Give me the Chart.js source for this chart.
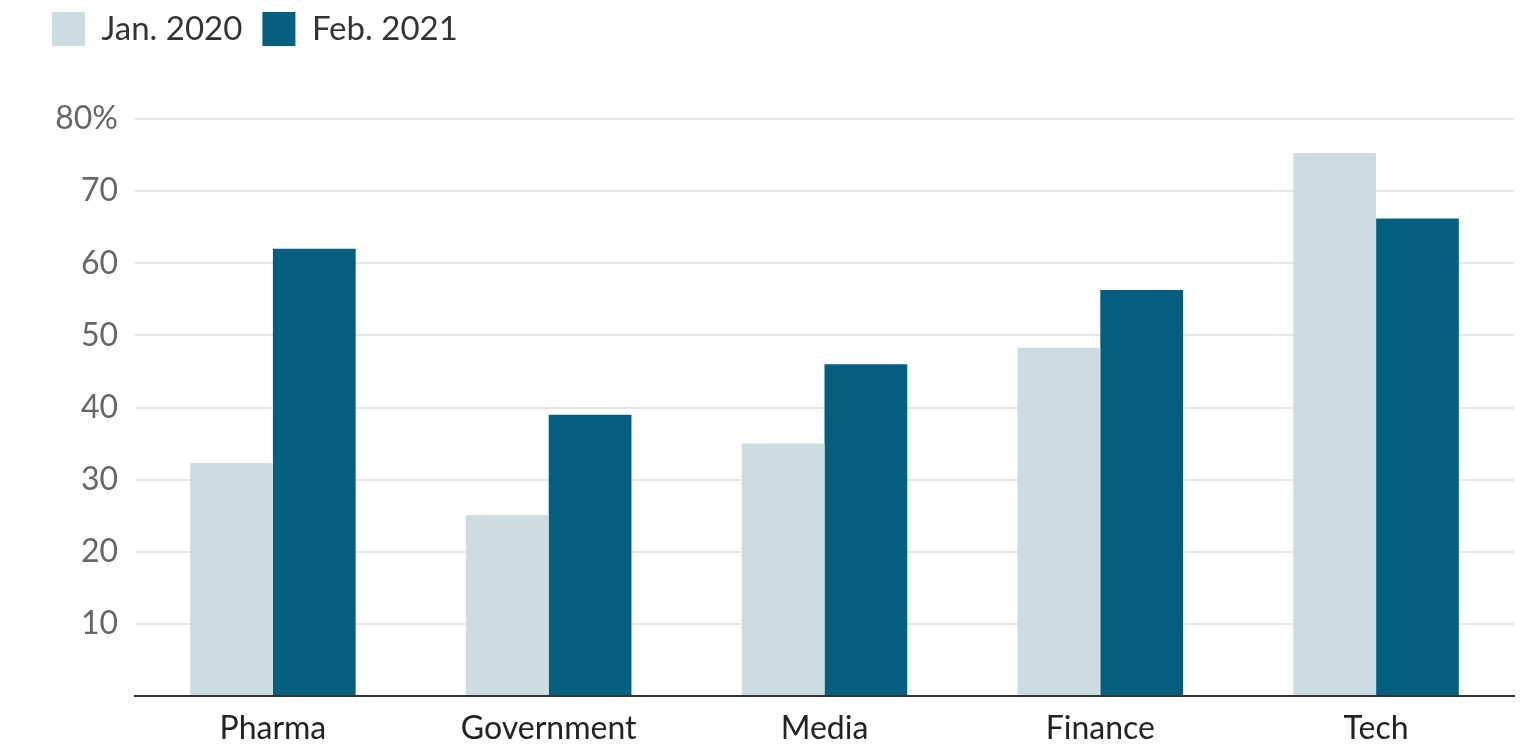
<!DOCTYPE html>
<html>
<head>
<meta charset="utf-8">
<script src="https://cdn.jsdelivr.net/npm/chart.js@4.4.0/dist/chart.umd.min.js"></script>
<style>
    html, body { margin: 0; padding: 0; background: #fff; }
    #wrap { width: 1522px; height: 747px; position: relative; }
</style>
</head>
<body>
<div id="wrap"><canvas id="bar-sektor"></canvas></div>
<script>
const sektor = ['Pharma', 'Government', 'Media', 'Finance', 'Tech'];
const jan2020 = [32.3, 25.1, 35, 48.3, 75.3];
const feb2021 = [62, 39, 46, 56.3, 66.2];
const yTicks = [10, 20, 30, 40, 50, 60, 70, 80];

// fixed legend height so the plot starts where the original does
const legendGap = {
    id: 'legendGap',
    beforeInit(chart) {
        const fitAsli = chart.legend.fit;
        chart.legend.fit = function () {
            fitAsli.bind(chart.legend)();
            this.height = 127;
        };
    }
};

const bar1 = document.getElementById('bar-sektor');

const bar_1 = new Chart(bar1, {
    type: 'bar',
    data: {
        labels: sektor,
        datasets: [{
            label: 'Jan. 2020',
            data: jan2020,
            backgroundColor: '#cddce1',
            borderWidth: 0,
        }, {
            label: 'Feb. 2021',
            data: feb2021,
            backgroundColor: '#045e7e',
            borderWidth: 0,
        }]
    },
    options: {
        responsive: true,
        maintainAspectRatio: false,
        animation: false,
        layout: {
            padding: { left: 32, right: 8, top: -8, bottom: 0 }
        },
        datasets: {
            bar: { categoryPercentage: 0.6, barPercentage: 1.0 }
        },
        scales: {
            x: {
                grid: { display: false },
                border: { display: true, color: '#333', width: 2 },
                afterFit: function (axis) {
                    axis.height = 51;
                },
                ticks: {
                    color: '#222',
                    padding: 5,
                    font: { family: 'Lato', size: 32 }
                }
            },
            y: {
                min: 0,
                max: 80,
                afterBuildTicks: function (axis) {
                    axis.ticks = [0].concat(yTicks).map(v => ({ value: v }));
                },
                afterFit: function (axis) {
                    axis.width = 103;
                },
                grid: { color: '#e6e6e6', lineWidth: 2, drawTicks: false },
                border: { display: false },
                ticks: {
                    color: '#666',
                    padding: 17,
                    font: { family: 'Lato', size: 32 },
                    callback: function (value) {
                        if (value === 0) return '';
                        return value === 80 ? value + '%' : value;
                    }
                }
            }
        },
        plugins: {
            legend: {
                display: true,
                position: 'top',
                align: 'start',
                labels: {
                    boxWidth: 33,
                    boxHeight: 34,
                    padding: 20,
                    color: '#333',
                    font: { family: 'Lato', size: 33 }
                }
            },
            tooltip: { enabled: false }
        }
    },
    plugins: [legendGap]
});
</script>
</body>
</html>
